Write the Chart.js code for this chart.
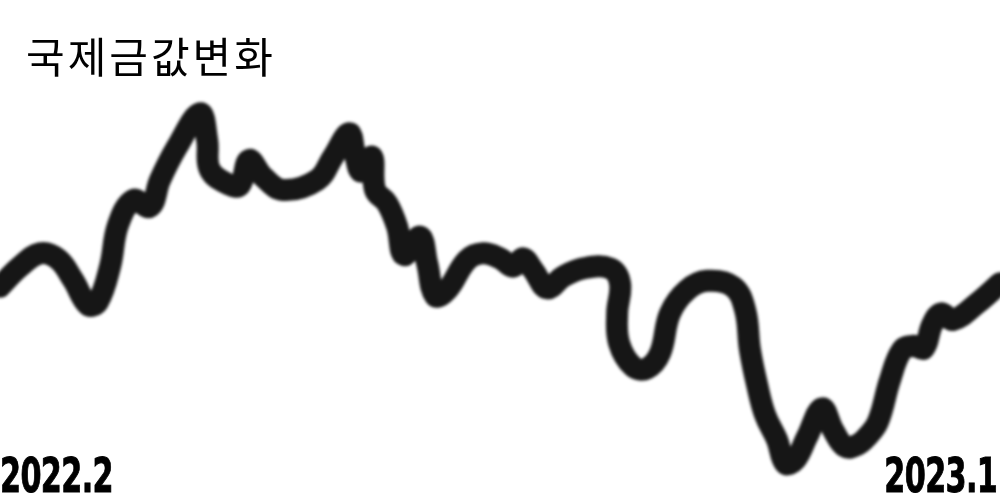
<!DOCTYPE html>
<html>
<head>
<meta charset="utf-8">
<script src="https://cdn.jsdelivr.net/npm/chart.js@4"></script>
<style>
  body { margin: 0; background: #fff; }
  .wrap { position: relative; width: 1000px; height: 500px; overflow: hidden; }
  #goldChart { position: absolute; left: 0; top: 0; }
  .title {
    position: absolute; left: 26px; top: 34px;
    font-family: "Noto Sans CJK KR", sans-serif; font-size: 42px; font-weight: 400;
    letter-spacing: 3px; color: #000; line-height: 1;
  }
  .date {
    position: absolute; top: 451px;
    font-family: "DejaVu Sans", sans-serif;
    font-weight: 700; font-size: 48px; line-height: 1; color: #000;
    letter-spacing: -1px;
    -webkit-text-stroke: 1px #000;
  }
  .date.left { left: 0; transform-origin: left top; transform: scaleX(0.63); }
  .date.right { right: 3px; transform-origin: right top; transform: scaleX(0.63); }
</style>
</head>
<body>
<div class="wrap">
  <canvas id="goldChart" width="1000" height="500"></canvas>
  <div class="title">국제금값변화</div>
  <div class="date left">2022.2</div>
  <div class="date right">2023.1</div>
</div>
<script>
// days since 2022.2 and gold price (usd/oz)
const days = [0, 7, 14, 20.3, 25.6, 30.8, 34.3, 38.5, 41.3, 46.6, 52.5, 56, 62, 70, 72.5, 73.5,
  80.5, 84, 87.2, 92.1, 99.1, 111, 116.6, 122.2, 124.3, 126.4, 130.2, 131.3, 135.5, 139, 141.4,
  147, 149.5, 152.3, 156.5, 163.5, 169.1, 175, 179.6, 183.1, 186.6, 191.5, 197.1, 204.1, 213.5,
  217, 216, 216.7, 221.6, 226.5, 231, 234.5, 240.5, 247.5, 256.6, 260.8, 262.5, 265, 267.8,
  272, 274.8, 278.3, 282.5, 287.7, 291.6, 295.8, 300, 303.5, 307.3, 311.5, 315.7, 319.9, 323.4,
  326.2, 329.4, 333.6, 342, 350];
const prices = [1841, 1865, 1881, 1874, 1849, 1819, 1823, 1865, 1915, 1945, 1937, 1969, 2009, 2049, 2017, 1981,
  1963, 1963, 1993, 1973, 1957, 1969, 1997, 2025, 1999, 1979, 1997, 1957, 1941, 1913, 1879,
  1901, 1869, 1830, 1837, 1873, 1881, 1875, 1865, 1875, 1861, 1839, 1853, 1863, 1863,
  1845, 1809, 1773, 1745, 1743, 1761, 1809, 1837, 1848, 1841, 1813, 1765, 1723, 1687,
  1657, 1629, 1633, 1661, 1695, 1669, 1649, 1651, 1661, 1679, 1729, 1765, 1770, 1767,
  1795, 1809, 1801, 1821, 1845];
const dayRange = [0, 350];
const priceRange = [1585, 2185];

const points = days.map((d, i) => ({ x: d, y: prices[i] }));

// soft brush edge
const softLine = {
  id: "softLine",
  beforeDatasetsDraw(chart) {
    chart.ctx.save();
    chart.ctx.filter = "blur(1.4px)";
  },
  afterDatasetsDraw(chart) {
    chart.ctx.restore();
  }
};

new Chart(document.getElementById("goldChart"), {
  type: "line",
  data: {
    datasets: [{
      data: points,
      borderColor: "#161616",
      borderWidth: 22,
      borderCapStyle: "round",
      borderJoinStyle: "round",
      pointRadius: 0,
      tension: 0.4,
      fill: false,
      clip: false
    }]
  },
  options: {
    responsive: false,
    animation: false,
    layout: { padding: 0 },
    plugins: { legend: { display: false }, tooltip: { enabled: false } },
    scales: {
      x: { type: "linear", min: dayRange[0], max: dayRange[1], display: false },
      y: { min: priceRange[0], max: priceRange[1], display: false }
    }
  },
  plugins: [softLine]
});
</script>
</body>
</html>
